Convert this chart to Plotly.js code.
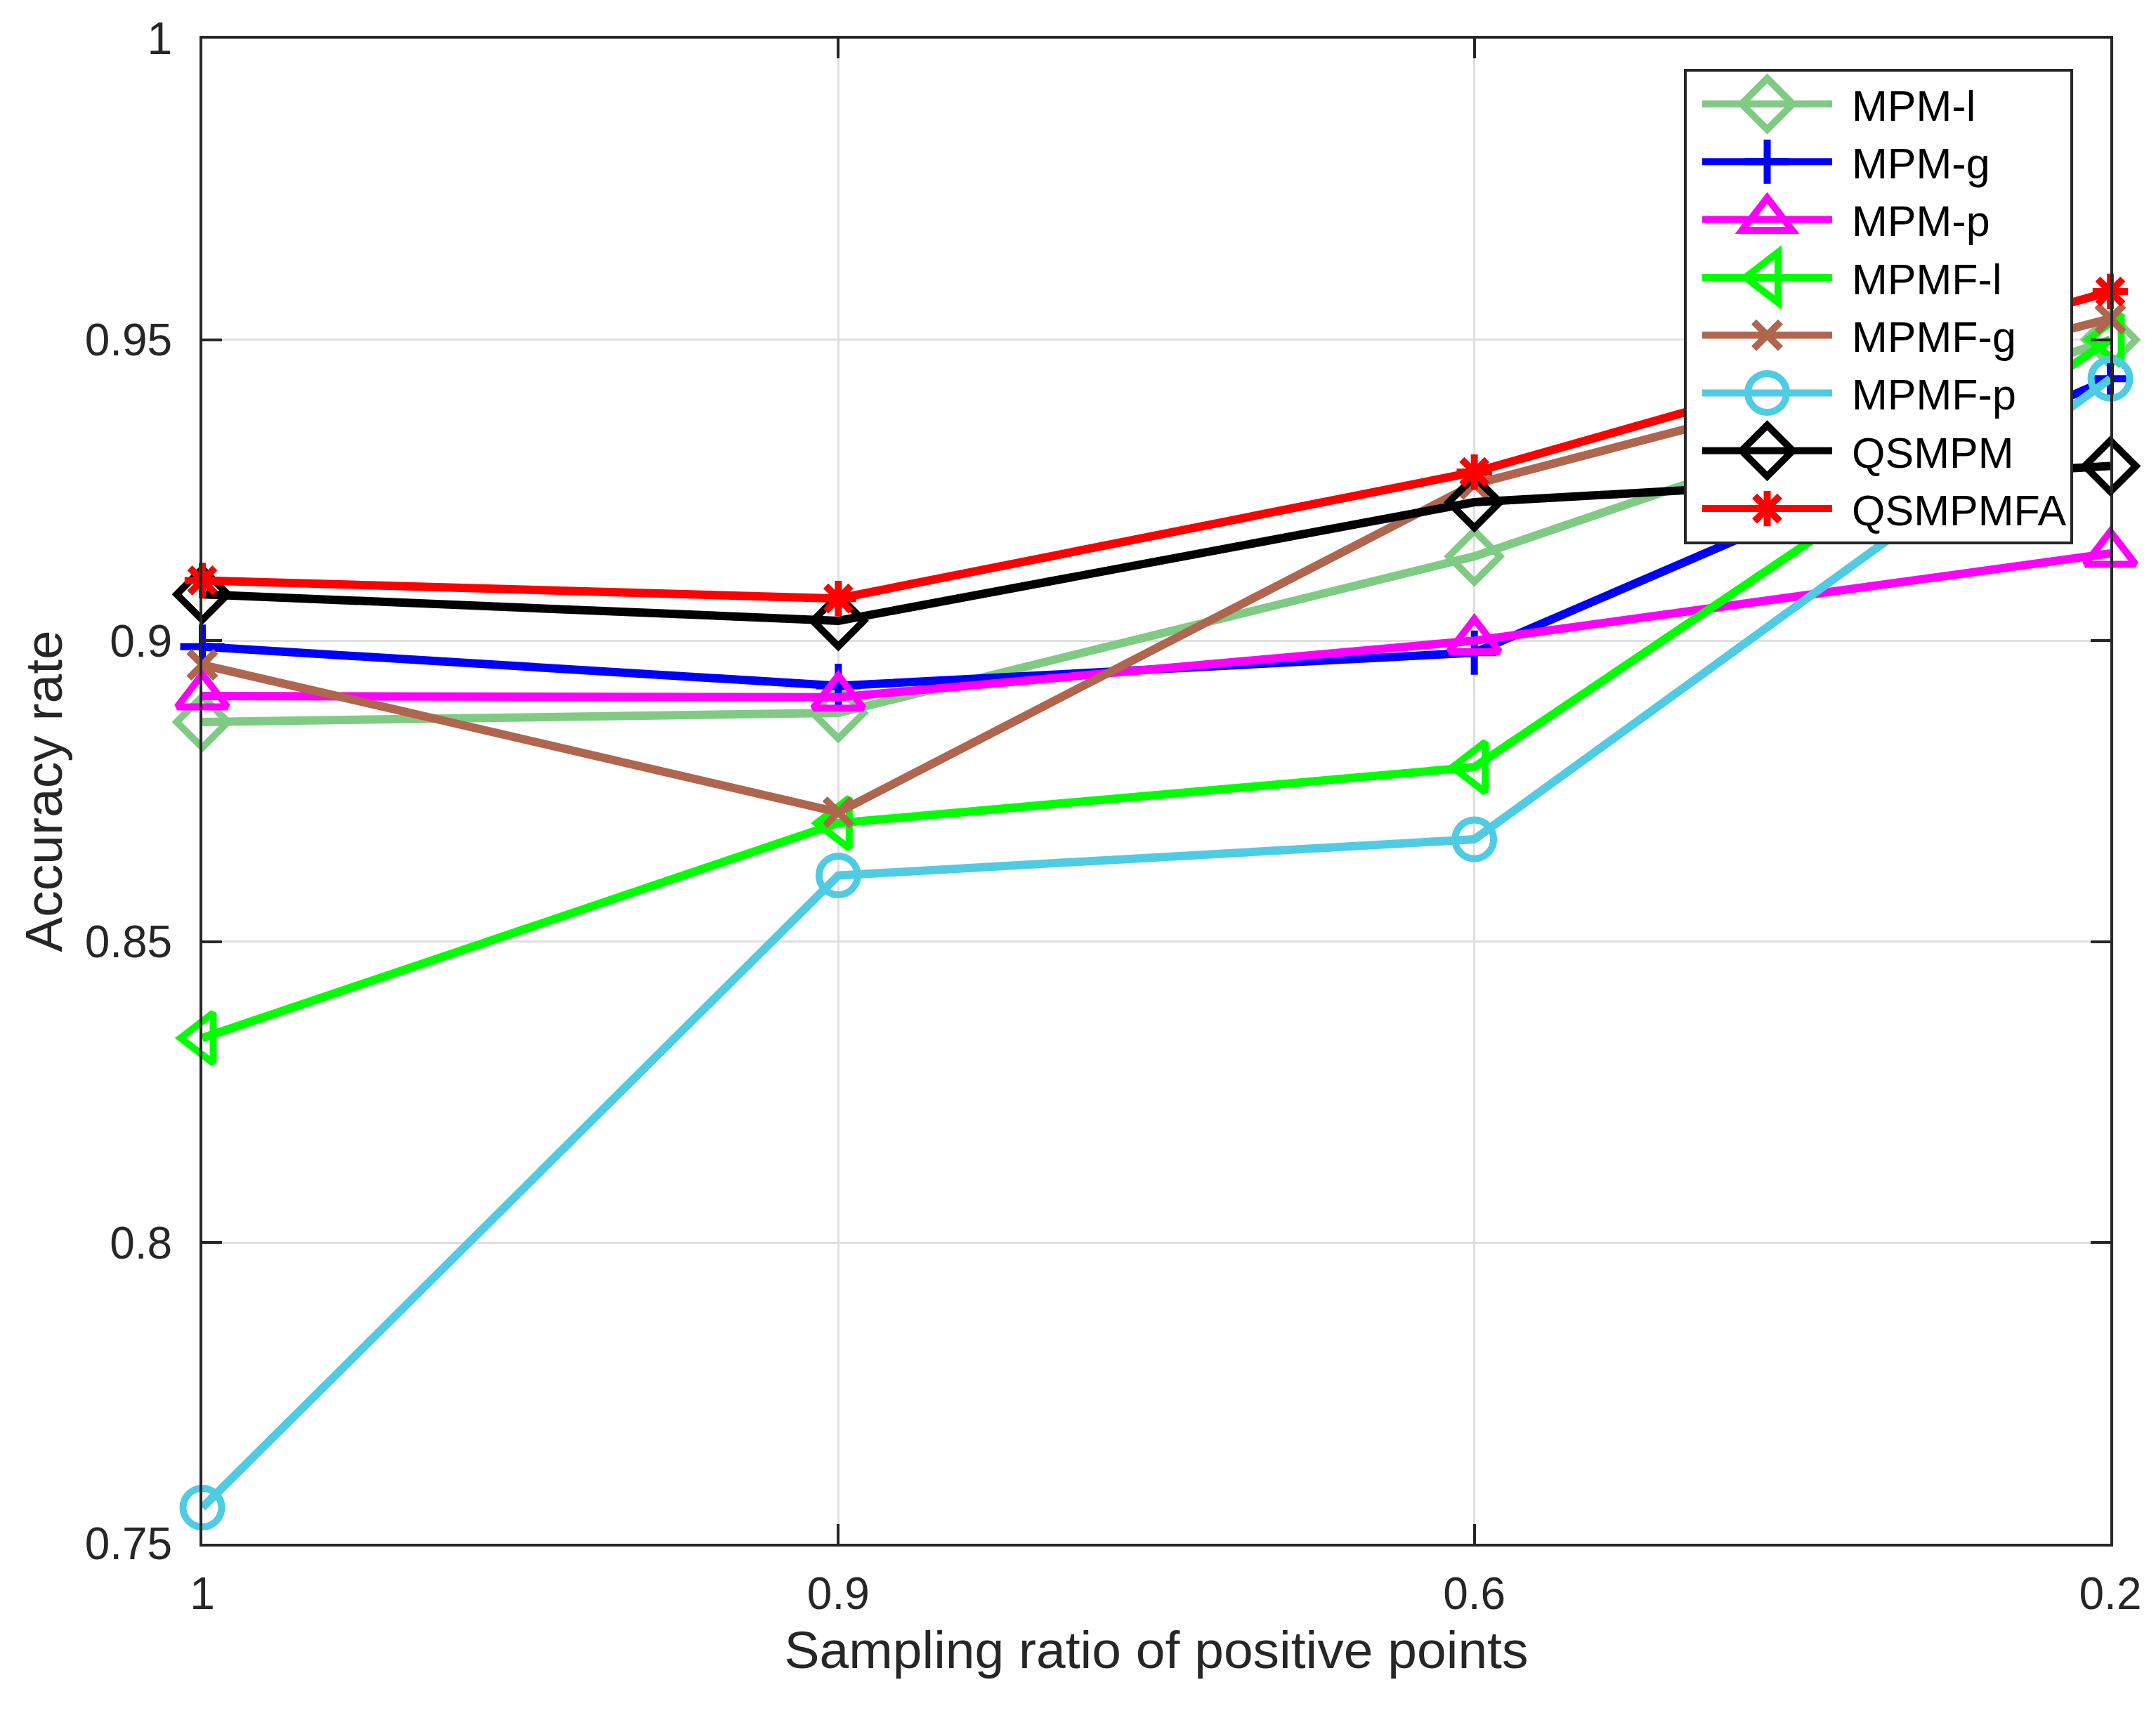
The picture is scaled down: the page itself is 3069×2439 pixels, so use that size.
<!DOCTYPE html>
<html>
<head>
<meta charset="utf-8">
<script src="https://cdn.plot.ly/plotly-3.0.1.min.js"></script>
<style>
  html, body { margin: 0; padding: 0; background: #fff; }
  #plot { width: 3069px; height: 2439px; }
</style>
</head>
<body>
<div id="plot"></div>
<script>
// sampling ratios (category axis, left to right)
const ratios = ['1', '0.9', '0.6', '0.2'];

const mpmL = [0.8865, 0.888, 0.914, 0.950];
const mpmG = [0.899, 0.8925, 0.898, 0.9435];
const mpmP = [0.8908, 0.8906, 0.900, 0.9145];
const mpmfL = [0.834, 0.8697, 0.879, 0.950];
const mpmfG = [0.896, 0.8715, 0.926, 0.9535];
const mpmfP = [0.756, 0.861, 0.867, 0.9435];
const qsmpm = [0.9077, 0.9033, 0.923, 0.929];
const qsmpmfa = [0.910, 0.907, 0.928, 0.958];

const yTicks = [0.75, 0.8, 0.85, 0.9, 0.95, 1];
const yTickText = ['0.75', '0.8', '0.85', '0.9', '0.95', '1'];

const LINE_W = 12;
const MARKER_LINE_W = 10;
const LEGEND_MARKER_MAX = 16; // plotly clamps legend symbols to this size
const LEGEND_ITEM_W = 225;

function series(name, y, color, symbol, size) {
  return {
    x: ratios,
    y: y,
    name: name,
    type: 'scatter',
    mode: 'lines+markers',
    cliponaxis: false,
    line: { color: color, width: LINE_W },
    marker: {
      symbol: symbol,
      size: size,
      color: color,
      line: { color: color, width: MARKER_LINE_W },
    },
  };
}

const traces = [
  series('MPM-l', mpmL, '#80CB84', 'diamond-open', 56),
  series('MPM-g', mpmG, '#0000FF', 'cross-thin-open', 45),
  series('MPM-p', mpmP, '#FF00FF', 'triangle-up-open', 62),
  series('MPMF-l', mpmfL, '#00FF00', 'triangle-left-open', 62),
  series('MPMF-g', mpmfG, '#B0654F', 'x-thin-open', 38),
  series('MPMF-p', mpmfP, '#4FCCE3', 'circle-open', 55),
  series('QSMPM', qsmpm, '#000000', 'diamond-open', 56),
  series('QSMPMFA', qsmpmfa, '#FF0000', 'asterisk-open', 42),
];

const axisColor = '#262626';
const fontFamily = '"Liberation Sans", Arial, Helvetica, sans-serif';

function axisStyle() {
  return {
    showline: true,
    linecolor: axisColor,
    linewidth: 4,
    mirror: 'ticks',
    ticks: 'inside',
    ticklen: 28,
    tickwidth: 4,
    tickcolor: axisColor,
    showgrid: true,
    gridcolor: '#dfdfdf',
    gridwidth: 3,
    zeroline: false,
    tickfont: { size: 64, color: axisColor },
  };
}

const layout = {
  width: 3069,
  height: 2439,
  paper_bgcolor: '#ffffff',
  plot_bgcolor: '#ffffff',
  font: { family: fontFamily, color: axisColor, size: 64 },
  margin: { l: 288, r: 65, t: 55, b: 241 },
  showlegend: true,
  legend: {
    x: 0.9805,
    y: 0.98,
    xanchor: 'right',
    yanchor: 'top',
    bgcolor: '#ffffff',
    bordercolor: axisColor,
    borderwidth: 4,
    font: { family: fontFamily, size: 61, color: '#000000' },
    itemwidth: LEGEND_ITEM_W,
  },
  xaxis: Object.assign(axisStyle(), {
    type: 'category',
    range: [0, 3],
    ticklabelstandoff: 12,
    title: {
      text: 'Sampling ratio of positive points',
      font: { size: 75, color: axisColor },
      standoff: 20,
    },
  }),
  yaxis: Object.assign(axisStyle(), {
    range: [0.75, 1],
    tickvals: yTicks,
    ticktext: yTickText,
    ticklabelstandoff: 26,
    title: {
      text: 'Accuracy rate',
      font: { size: 75, color: axisColor },
      standoff: 8,
    },
  }),
};

const config = {
  staticPlot: true,
  displayModeBar: false,
};

Plotly.newPlot('plot', traces, layout, config).then(function (gd) {
  const items = gd.querySelectorAll('.legend .traces');
  items.forEach(function (item, i) {
    // enlarge the legend symbols to the size used on the plot
    const size = traces[i].marker.size;
    const k = Math.max(size / LEGEND_MARKER_MAX, 1);
    item.querySelectorAll('path.scatterpts').forEach(function (p) {
      p.setAttribute('transform', (p.getAttribute('transform') || '') + ' scale(' + k + ')');
      p.style.setProperty('stroke-width', (MARKER_LINE_W / k) + 'px');
    });
    // leave a small gap between the sample line and the label
    item.querySelectorAll('.legendlines path').forEach(function (p) {
      p.setAttribute('d', 'M22,0h' + (LEGEND_ITEM_W - 40));
    });
    item.querySelectorAll('path.scatterpts').forEach(function (p) {
      p.setAttribute('transform', p.getAttribute('transform').replace(/translate\([^)]*\)/,
        'translate(' + (22 + (LEGEND_ITEM_W - 40) / 2) + ',0)'));
    });
  });
});
</script>
</body>
</html>
